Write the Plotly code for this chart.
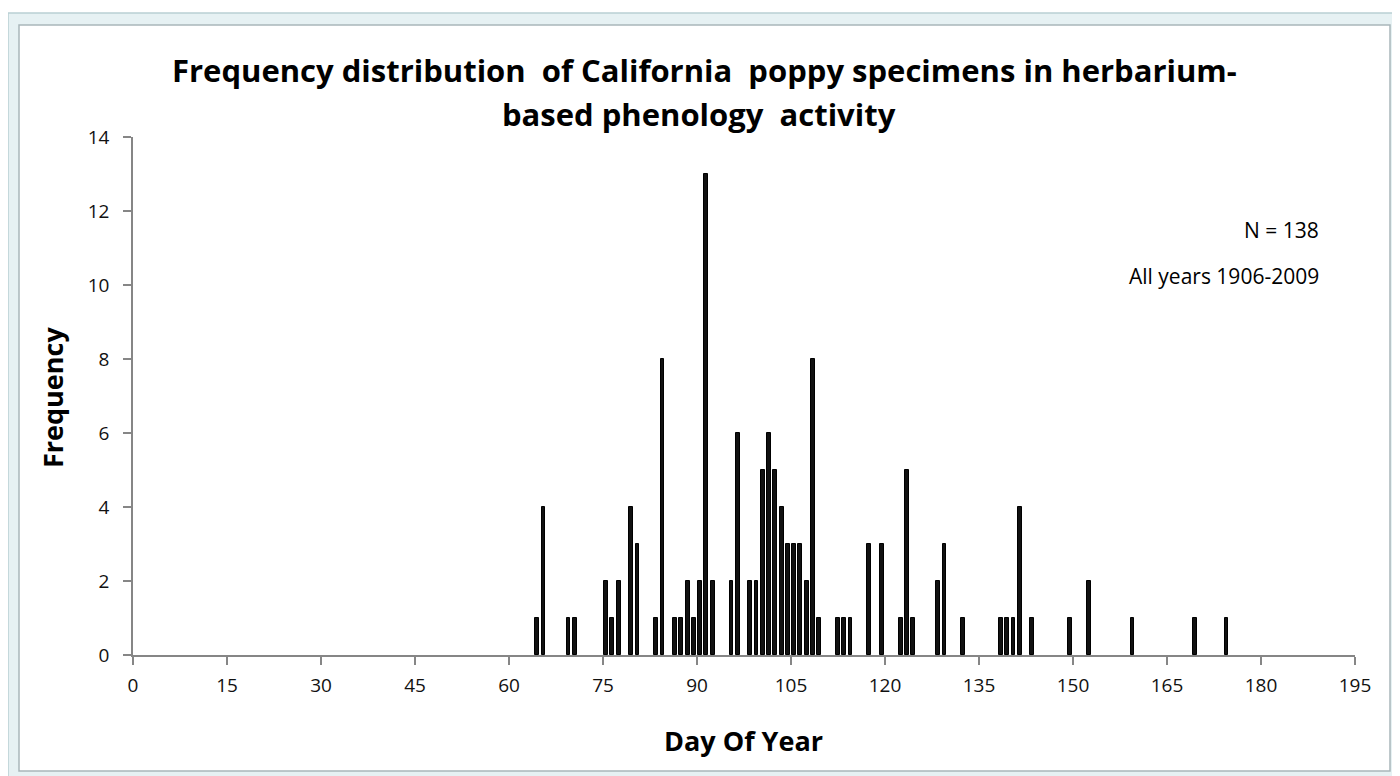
import plotly.graph_objects as go

days = [64, 65, 69, 70, 75, 76, 77, 79, 80, 83, 84, 86, 87, 88, 89, 90, 91, 92,
        95, 96, 98, 99, 100, 101, 102, 103, 104, 105, 106, 107, 108, 109,
        112, 113, 114, 117, 119, 122, 123, 124, 128, 129, 132,
        138, 139, 140, 141, 143, 149, 152, 159, 169, 174]
freq = [1, 4, 1, 1, 2, 1, 2, 4, 3, 1, 8, 1, 1, 2, 1, 2, 13, 2,
        2, 6, 2, 2, 5, 6, 5, 4, 3, 3, 3, 2, 8, 1,
        1, 1, 1, 3, 3, 1, 5, 1, 2, 3, 1,
        1, 1, 1, 4, 1, 1, 2, 1, 1, 1]
x_ticks = list(range(0, 196, 15))
y_ticks = list(range(0, 15, 2))

title_lines = ["Frequency distribution  of California  poppy specimens in herbarium-",
               "based phenology  activity"]
notes = ["N = 138", "All years 1906-2009"]

# page pixel -> paper coordinates (plot area spans x 133..1355, y 137..655 on page)
PX0, PX1, PY0, PY1 = 133, 1355, 137, 655
W, H = PX1 - PX0, PY1 - PY0


def px(x):
    return (x - PX0) / W


def py(y):
    return (PY1 - y) / H


bw = 0.62
fig = go.Figure(go.Bar(
    x=days, y=freq, width=bw, offset=0.5 - bw / 2,
    marker=dict(color="#111111", line=dict(color="#000000", width=1)),
))

axis_col = "#868686"
font_fam = "Open Sans, Liberation Sans, sans-serif"
# the page body has an 8px margin, so shift margins by 8
fig.update_layout(
    width=1400, height=776,
    paper_bgcolor="white", plot_bgcolor="white",
    margin=dict(l=PX0 - 8, r=1400 - (PX0 - 8) - W, t=PY0 - 8, b=776 - (PY0 - 8) - H),
    showlegend=False,
    font=dict(family=font_fam, color="#000"),
    xaxis=dict(range=[0, 195], tickvals=x_ticks, ticks="outside", ticklen=8,
               tickcolor=axis_col, tickwidth=1.5, showline=True, linecolor=axis_col,
               linewidth=1.5, showgrid=False, zeroline=False,
               tickfont=dict(size=19, color="#111"), ticklabelstandoff=4),
    yaxis=dict(range=[0, 14], tickvals=y_ticks, ticks="outside", ticklen=8,
               tickcolor=axis_col, tickwidth=1.5, showline=True, linecolor=axis_col,
               linewidth=1.5, showgrid=False, zeroline=False,
               tickfont=dict(size=19, color="#111"), ticklabelstandoff=10),
    bargap=0,
)

# outer Excel-style frame
fig.add_shape(type="rect", xref="paper", yref="paper",
              x0=px(8), x1=px(1400), y0=py(790), y1=py(13),
              fillcolor="#e6f1f3", line=dict(color="#b9cfd4", width=1.5), layer="below")
fig.add_shape(type="rect", xref="paper", yref="paper",
              x0=px(19), x1=px(1390), y0=py(771), y1=py(25),
              fillcolor="white", line=dict(color="#a9b6ba", width=1.5), layer="below")

# title
fig.add_annotation(text="<b>" + title_lines[0] + "</b>", xref="paper", yref="paper",
                   x=px(704), y=py(70), xanchor="center", yanchor="middle",
                   showarrow=False, font=dict(size=31, family=font_fam, color="#000"))
fig.add_annotation(text="<b>" + title_lines[1] + "</b>", xref="paper", yref="paper",
                   x=px(699), y=py(114), xanchor="center", yanchor="middle",
                   showarrow=False, font=dict(size=31, family=font_fam, color="#000"))

# axis titles
fig.add_annotation(text="<b>Day Of Year</b>", xref="paper", yref="paper",
                   x=px(743), y=py(740), xanchor="center", yanchor="middle",
                   showarrow=False, font=dict(size=27, family=font_fam, color="#000"))
fig.add_annotation(text="<b>Frequency</b>", xref="paper", yref="paper",
                   x=px(52), y=py(398), xanchor="center", yanchor="middle",
                   textangle=-90, showarrow=False,
                   font=dict(size=27, family=font_fam, color="#000"))

# notes
fig.add_annotation(text=notes[0], xref="paper", yref="paper", x=px(1321),
                   y=py(230), xanchor="right", yanchor="middle",
                   showarrow=False, font=dict(size=21, color="#000"))
fig.add_annotation(text=notes[1], xref="paper", yref="paper", x=px(1321),
                   y=py(276), xanchor="right", yanchor="middle",
                   showarrow=False, font=dict(size=21, color="#000"))

fig.write_html("out.html")
